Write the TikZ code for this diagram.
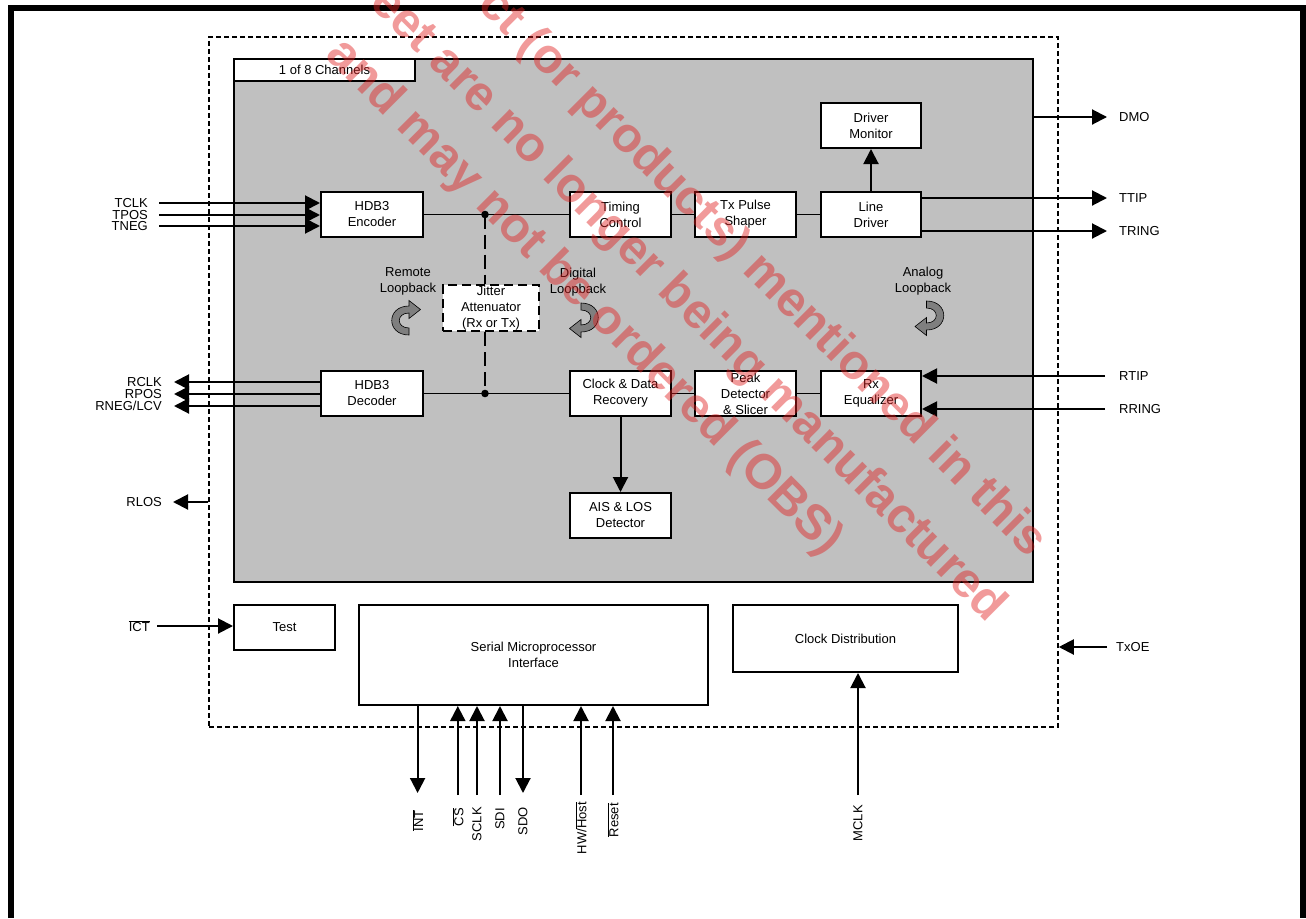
\documentclass[tikz,border=0pt]{standalone}
\usepackage{fontspec}
\setmainfont{Liberation Sans}
\usetikzlibrary{arrows.meta,positioning,calc}
\definecolor{chipgray}{HTML}{C0C0C0}
\definecolor{icongray}{HTML}{7F7F7F}
\definecolor{wmred}{HTML}{E02020}

\tikzset{
  loopicon/.pic={
    \filldraw[fill=icongray, draw=black, line width=0.6pt]
      (-3,-16) .. controls (20,-16) and (20,13) .. (-3,13)
      -- (-3,18.5) -- (-14.5,9.5) -- (-3,0.5) -- (-3,6)
      .. controls (10,6) and (10,-9) .. (-3,-9) -- cycle;
  }
}

\begin{document}
\begin{tikzpicture}[x=1pt, y=-1pt,
  every node/.style={font=\fontsize{13}{16}\selectfont},
  blk/.style={rectangle, draw, line width=2pt, fill=white, minimum width=101pt, minimum height=45pt, inner sep=1pt, align=center},
  arr/.style={-{Triangle[length=15pt, width=15pt]}, line width=2pt},
  wire/.style={line width=1.8pt},
  pinl/.style={inner sep=0pt, anchor=east},
  pinr/.style={inner sep=0pt, anchor=west},
  pinb/.style={inner sep=0pt, anchor=east, rotate=90},
  wmark/.style={rotate=-45, anchor=base west, inner sep=0pt, text=wmred, text opacity=0.45, font=\fontsize{49}{60}\selectfont\bfseries}
]
  \useasboundingbox (0,0) rectangle (1306,918);
  \draw[line width=6pt] (11,918) -- (11,8) -- (1303,8) -- (1303,918);

  % device outline and one channel
  \node[draw, dash pattern=on 5pt off 3pt, line width=1.5pt, minimum width=849pt, minimum height=690pt, inner sep=0pt] (dev) at (633.5,382) {};
  \node[draw, fill=chipgray, line width=1.7pt, minimum width=799pt, minimum height=523pt, inner sep=0pt] (chip) at (633.5,320.5) {};
  \node[draw, fill=white, line width=1.7pt, minimum width=181pt, minimum height=22pt, inner sep=0pt] (tag) at (324.5,70) {1 of 8 Channels};

  % transmit path
  \node[blk, minimum width=102pt] (enc) at (372,214.5) {HDB3\\Encoder};
  \node[blk] (tim) at (620.5,214.5) {Timing\\Control};
  \node[blk] (tps) at (745.5,214.5) {Tx Pulse\\Shaper};
  \node[blk, minimum width=100pt] (ldr) at (871,214.5) {Line\\Driver};
  \node[blk, minimum width=100pt] (dmon) at (871,125.5) {Driver\\Monitor};

  % receive path
  \node[blk, minimum width=102pt] (dec) at (372,393.5) {HDB3\\Decoder};
  \node[blk] (cdr) at (620.5,393.5) {Clock \& Data\\Recovery};
  \node[blk] (pds) at (745.5,393.5) {Peak\\Detector\\\& Slicer};
  \node[blk, minimum width=100pt] (rxeq) at (871,393.5) {Rx\\Equalizer};
  \node[blk] (ais) at (620.5,515.5) {AIS \& LOS\\Detector};

  \node[blk, dash pattern=on 9pt off 5pt, line width=2.4pt, minimum width=96pt, minimum height=44pt] (jit) at (491,308) {Jitter\\Attenuator\\(Rx or Tx)};

  % loopbacks
  \node[align=center] (rlb) at (408,281) {Remote\\Loopback};
  \node[align=center] (dlb) at (578,282) {Digital\\Loopback};
  \node[align=center] (alb) at (923,281) {Analog\\Loopback};
  \pic[rotate=180] at (406,319) {loopicon};
  \pic at (584,319) {loopicon};
  \pic at (929.5,317) {loopicon};

  % common blocks
  \node[blk] (test) at (284.5,627.5) {Test};
  \node[blk, minimum width=349pt, minimum height=100pt] (smi) at (533.5,655) {Serial Microprocessor\\Interface};
  \node[blk, minimum width=225pt, minimum height=67pt] (cdist) at (845.5,638.5) {Clock Distribution};

  % internal wiring
  \coordinate (jt) at (485,214.5);
  \coordinate (jb) at (485,393.5);
  \draw[wire] (enc) -- (tim);
  \draw[wire] (tim) -- (tps);
  \draw[wire] (tps) -- (ldr);
  \draw[arr] (ldr) -- (dmon);
  \draw[wire] (dec) -- (cdr);
  \draw[wire] (cdr) -- (pds);
  \draw[wire] (pds) -- (rxeq);
  \draw[arr] (cdr) -- (ais);
  \draw[line width=2pt, dash pattern=on 14pt off 6pt] (jt) -- (jt |- jit.north);
  \draw[line width=2pt, dash pattern=on 14pt off 6pt] (jb |- jit.south) -- (jb);
  \fill (jt) circle (3.8pt);
  \fill (jb) circle (3.8pt);

  % left pins
  \node[pinl] (tclk) at (148,203) {TCLK};
  \node[pinl] (tpos) at (148,215) {TPOS};
  \node[pinl] (tneg) at (148,226) {TNEG};
  \draw[arr] ([xshift=11pt]tclk.east) -- (tclk -| enc.west);
  \draw[arr] ([xshift=11pt]tpos.east) -- (tpos -| enc.west);
  \draw[arr] ([xshift=11pt]tneg.east) -- (tneg -| enc.west);

  \node[pinl] (rclk) at (162,382) {RCLK};
  \node[pinl] (rpos) at (162,394) {RPOS};
  \node[pinl] (rneg) at (162,406) {RNEG/LCV};
  \draw[arr] (rclk -| dec.west) -- ([xshift=12pt]rclk.east);
  \draw[arr] (rpos -| dec.west) -- ([xshift=12pt]rpos.east);
  \draw[arr] (rneg -| dec.west) -- ([xshift=12pt]rneg.east);

  \node[pinl] (rlos) at (162,502) {RLOS};
  \draw[arr] (rlos -| dev.west) -- ([xshift=11pt]rlos.east);

  \node[pinl] (ict) at (150,626) {$\overline{\hbox{ICT}}$};
  \draw[arr] ([xshift=7pt]ict.east) -- (ict -| test.west);

  % right pins
  \node[pinr] (dmo) at (1119,117) {DMO};
  \node[pinr] (ttip) at (1119,198) {TTIP};
  \node[pinr] (tring) at (1119,231) {TRING};
  \node[pinr] (rtip) at (1119,376) {RTIP};
  \node[pinr] (rring) at (1119,409) {RRING};
  \node[pinr] (txoe) at (1116,647) {TxOE};
  \draw[arr] (dmo -| chip.east) -- ([xshift=-12pt]dmo.west);
  \draw[arr] (ttip -| ldr.east) -- ([xshift=-12pt]ttip.west);
  \draw[arr] (tring -| ldr.east) -- ([xshift=-12pt]tring.west);
  \draw[arr] ([xshift=-14pt]rtip.west) -- (rtip -| rxeq.east);
  \draw[arr] ([xshift=-14pt]rring.west) -- (rring -| rxeq.east);
  \draw[arr] ([xshift=-9pt]txoe.west) -- (txoe -| dev.east);

  % bottom pins
  \node[pinb] (int) at (417.6,810) {$\overline{\hbox{INT}}$};
  \node[pinb] (cs) at (457.8,808) {$\overline{\hbox{CS}}$};
  \node[pinb] (sclk) at (477,807) {SCLK};
  \node[pinb] (sdi) at (500,808) {SDI};
  \node[pinb] (sdo) at (523,807) {SDO};
  \node[pinb] (hwh) at (581,802) {HW/$\overline{\hbox{Host}}$};
  \node[pinb] (rst) at (613,803) {$\overline{\hbox{Reset}}$};
  \node[pinb] (mclk) at (858,805) {MCLK};
  \draw[arr] (int.east |- smi.south) -- ([yshift=17pt]int.east);
  \draw[arr] ([yshift=13pt]cs.east) -- (cs.east |- smi.south);
  \draw[arr] ([yshift=12pt]sclk.east) -- (sclk.east |- smi.south);
  \draw[arr] ([yshift=13pt]sdi.east) -- (sdi.east |- smi.south);
  \draw[arr] (sdo.east |- smi.south) -- ([yshift=14pt]sdo.east);
  \draw[arr] ([yshift=7pt]hwh.east) -- (hwh.east |- smi.south);
  \draw[arr] ([yshift=8pt]rst.east) -- (rst.east |- smi.south);
  \draw[arr] ([yshift=10pt]mclk.east) -- (mclk.east |- cdist.south);

  % obsolescence stamp
  \node[wmark] (wm1) at (476,6) {ct (or products) mentioned in this};
  \node[wmark] (wm2) at (368,4) {eet are no longer being manufactured};
  \node[wmark] (wm3) at (324,56) {and may not be ordered (OBS)};
\end{tikzpicture}
\end{document}
